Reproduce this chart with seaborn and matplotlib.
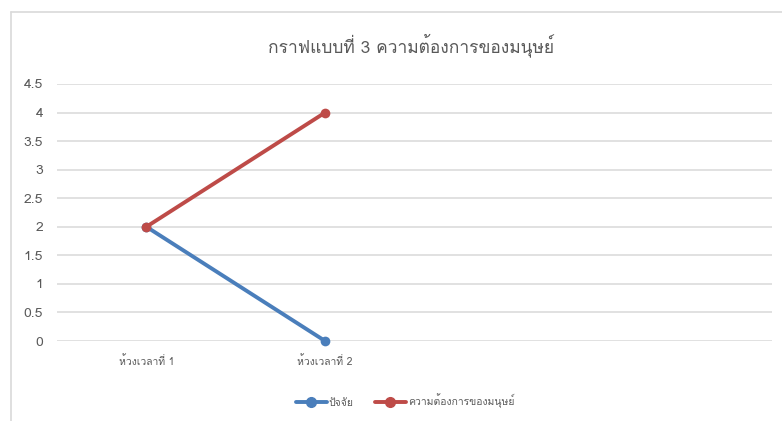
import pandas as pd
import matplotlib
matplotlib.use('Agg')
import matplotlib.pyplot as plt
from matplotlib import font_manager
from matplotlib.ft2font import FT2Font
from matplotlib.lines import Line2D
import seaborn as sns

# data
periods = ['ห้วงเวลาที่ 1', 'ห้วงเวลาที่ 2']
factor = [2, 0]
human_need = [2, 4]
series_names = ['ปัจจัย', 'ความต้องการของมนุษย์']
title = 'กราฟแบบที่ 3 ความต้องการของมนุษย์'

df = pd.DataFrame({
    'period': periods * 2,
    'value': factor + human_need,
    'series': [series_names[0]] * len(periods) + [series_names[1]] * len(periods),
})

# find a font that can draw Thai
thai_font = None
for f in font_manager.fontManager.ttflist:
    try:
        if ord('ก') in FT2Font(f.fname).get_charmap():
            thai_font = f.name
            break
    except Exception:
        pass

sns.set_theme(style='white')
families = ['DejaVu Sans']
if thai_font:
    families = [thai_font, 'DejaVu Sans']
plt.rcParams['font.family'] = families

grey = '#595959'
colors = {series_names[0]: '#4A7EBB', series_names[1]: '#BE4B48'}

fig = plt.figure(figsize=(7.82, 4.21), dpi=100)
ax = fig.add_axes([57 / 782, 80 / 421, 715 / 782, 257 / 421])

# chart area border (only left and top edges fall inside the picture)
bx, by = 10.5 / 782, 1 - 11.5 / 421
fig.add_artist(Line2D([bx, bx], [0, by], transform=fig.transFigure, color='#D9D9D9', linewidth=1.2))
fig.add_artist(Line2D([bx, 1], [by, by], transform=fig.transFigure, color='#D9D9D9', linewidth=1.2))

sns.lineplot(data=df, x='period', y='value', hue='series', palette=colors,
             marker='o', markersize=7, markeredgewidth=0, linewidth=2.8,
             sort=False, ax=ax, legend=False)
for ln in ax.lines:
    ln.set_clip_on(False)

ax.set_ylim(0, 4.5)
ax.set_xlim(-0.5, 3.5)
ax.set_yticks([0, 0.5, 1, 1.5, 2, 2.5, 3, 3.5, 4, 4.5])
ax.set_yticklabels(['0', '0.5', '1', '1.5', '2', '2.5', '3', '3.5', '4', '4.5'])
ax.yaxis.grid(True, color='#D9D9D9', linewidth=1.1)
ax.set_axisbelow(True)
for s in ax.spines.values():
    s.set_visible(False)
ax.tick_params(axis='y', length=0, pad=10, labelsize=10, labelcolor=grey)
ax.tick_params(axis='x', length=0, pad=10, labelsize=7.5, labelcolor=grey)
ax.set_xlabel('')
ax.set_ylabel('')

fig.text(411 / 782, 1 - 45 / 421, title, ha='center', va='center', fontsize=12.5, color=grey)

handles = [Line2D([], [], color=colors[n], marker='o', markersize=7, linewidth=2.8)
           for n in series_names]
fig.legend(handles, series_names, loc='center', bbox_to_anchor=(405 / 782, 1 - 401 / 421),
           ncol=2, frameon=False, fontsize=7.5, labelcolor=grey, handlelength=3,
           handletextpad=0.2, columnspacing=2)

fig.savefig('out.png', dpi=100)
